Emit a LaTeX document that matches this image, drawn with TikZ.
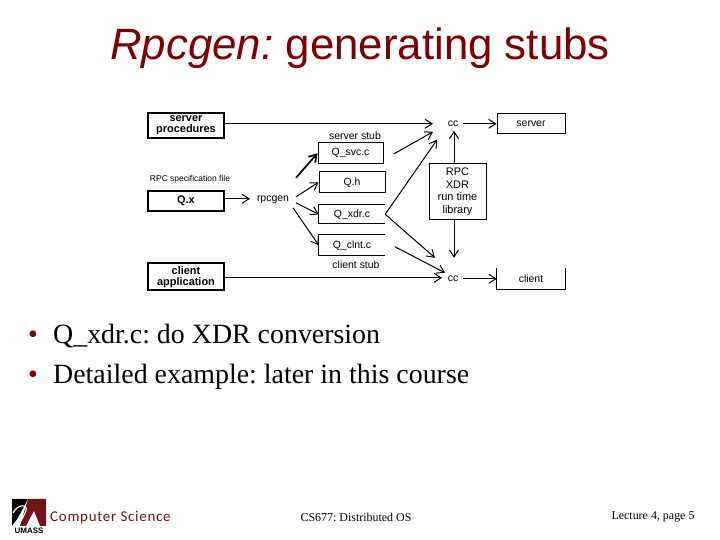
\documentclass[tikz,border=0pt]{standalone}
\usepackage{fontspec}
\setmainfont{Liberation Serif}
\newfontfamily\arialf{Liberation Sans}
\newfontfamily\handf[LetterSpace=5]{Carlito}
\usetikzlibrary{arrows.meta}
\definecolor{darkred}{HTML}{800000}
\definecolor{logored}{HTML}{6E1414}
\frenchspacing
\tikzset{
  box/.style={draw,line width=1bp,inner sep=0pt,font=\arialf\fontsize{10.5}{12}\selectfont,align=center},
  boldbox/.style={draw,line width=1.8bp,inner sep=0pt,font=\arialf\bfseries\fontsize{11}{12}\selectfont,align=center},
  openbox/.style={inner sep=0pt,font=\arialf\fontsize{10.5}{12}\selectfont,align=center},
  lbl/.style={inner sep=0pt,font=\arialf\fontsize{10.5}{12}\selectfont,align=center},
  conn/.style={line width=1bp,-{Straight Barb[length=7bp,width=9bp]}},
  heavy/.style={line width=1.7bp,-{Straight Barb[length=7bp,width=9bp]}},
  edge/.style={line width=1bp},
  bodytext/.style={inner sep=0pt,anchor=base west,font=\fontsize{28}{32}\selectfont},
  bulletdot/.style={inner sep=0pt,anchor=base west,text=darkred,font=\fontsize{28}{32}\selectfont},
  foot/.style={inner sep=0pt,font=\fontsize{12}{14}\selectfont},
}
\begin{document}
\begin{tikzpicture}[x=1bp,y=-1bp]
\useasboundingbox (0,-0.8) rectangle (720,539.2);
% title
\node[inner sep=0pt,text=darkred,font=\arialf\fontsize{44}{48}\selectfont] (title) at (360,47.5) {\textit{Rpcgen:} generating stubs};
% left boxes
\node[boldbox,minimum width=76bp,minimum height=25bp] (sp) at (186,124.5) {server\\[-1bp]procedures};
\node[boldbox,minimum width=76bp,minimum height=20bp] (qx) at (186,200) {Q.x};
\node[boldbox,minimum width=76bp,minimum height=27bp] (ca) at (186,276) {client\\[-1bp]application};
\node[lbl,font=\arialf\fontsize{8.5}{10}\selectfont] (spec) at (190,179) {RPC specification file};
\node[lbl] (rpcgen) at (273,199) {rpcgen};
% middle boxes
\node[box,minimum width=65bp,minimum height=21bp] (svc) at (350.5,152.5) {Q\_svc.c};
\node[box,minimum width=66bp,minimum height=21bp] (qh) at (352,181.5) {Q.h};
\node[openbox,minimum width=66bp,minimum height=19bp] (xdr) at (352,213.5) {Q\_xdr.c};
\node[openbox,minimum width=66bp,minimum height=21bp] (cln) at (352,244.5) {Q\_clnt.c};
\draw[edge] (xdr.north east) -- (xdr.north west) -- (xdr.south west) -- (xdr.south east);
\draw[edge] (cln.north east) -- (cln.north west) -- (cln.south west) -- (cln.south east);
\node[lbl] (sstub) at (355,135) {server stub};
\node[lbl] (cstub) at (356,264) {client stub};
% right side
\node[lbl,minimum width=20bp] (cc1) at (453,123) {cc};
\node[lbl,minimum width=20bp] (cc2) at (453,278) {cc};
\node[box,minimum width=68bp,minimum height=20bp] (server) at (531,123) {server};
\node[openbox,minimum width=68bp,minimum height=21bp] (client) at (531,278) {client};
\draw[edge] (client.north west) -- (client.south west) -- (client.south east) -- (client.north east);
\node[box,minimum width=57bp,minimum height=56bp,font=\arialf\fontsize{11}{13}\selectfont] (rpc) at (457.5,191) {RPC\\XDR\\run time\\library};
% connectors
\coordinate (a1) at (433,123);
\coordinate (a2) at (442,277);
\coordinate (a3) at (433,131);
\coordinate (a4) at (437,139);
\coordinate (a5) at (435,257);
\coordinate (a6) at (445,272);
\coordinate (a7) at (454,130);
\coordinate (a8) at (454,257);
\coordinate (b1) at (296,177);
\coordinate (b2) at (296,196);
\coordinate (b3) at (296,202);
\coordinate (b4) at (293,207);
\coordinate (b5) at (250,198);
\coordinate (b6) at (394,153);
\coordinate (b7) at (395,246);
\draw[conn] (sp.east |- a1) -- (a1);
\draw[conn] (ca.east |- a2) -- (a2);
\draw[conn] (qx.east |- b5) -- (b5);
\draw[heavy] (b1) -- (svc.west);
\draw[conn] (b2) -- (qh.west);
\draw[conn] (b3) -- (xdr.west);
\draw[conn] (b4) -- (cln.west);
\draw[conn] (b6) -- (a3);
\draw[conn] (xdr.east) -- (a4);
\draw[conn] (xdr.east) -- (a5);
\draw[conn] (b7) -- (a6);
\draw[conn] (cc1.east) -- (server.west);
\draw[conn] (cc2.east) -- (client.west);
\draw[conn] (rpc.north -| a7) -- (a7);
\draw[conn] (rpc.south -| a8) -- (a8);
% body
\node[bulletdot] (b1t) at (28,343) {•};
\node[bodytext] (l1) at (53,343) {Q\_xdr.c: do XDR conversion};
\node[bulletdot] (b2t) at (28,383) {•};
\node[bodytext] (l2) at (53,383) {Detailed example: later in this course};
% footer
\node[inner sep=0pt,anchor=west,text=logored,font=\handf\fontsize{15}{17}\selectfont] (cs) at (50,517) {Computer Science};
\node[foot] (course) at (356,517) {CS677: Distributed OS};
\node[foot] (lect) at (653,516) {Lecture 4, page 5};
% logo
\fill[black] (12,498) -- (28,498) -- (18,517) -- (12,525) -- cycle;
\fill[logored] (28,498) -- (46,498) -- (46,525) -- (40,525) -- (34,510) -- (26,525) -- (20,525) -- cycle;
\draw[white,line width=1.2bp] (13,512) .. controls (18,503) and (28,503) .. (26,510) .. controls (24,516) and (20,520) .. (19,525);
\node[inner sep=0pt,font=\arialf\bfseries\fontsize{8}{8}\selectfont] (umass) at (29,530) {UMASS};
\end{tikzpicture}
\end{document}
